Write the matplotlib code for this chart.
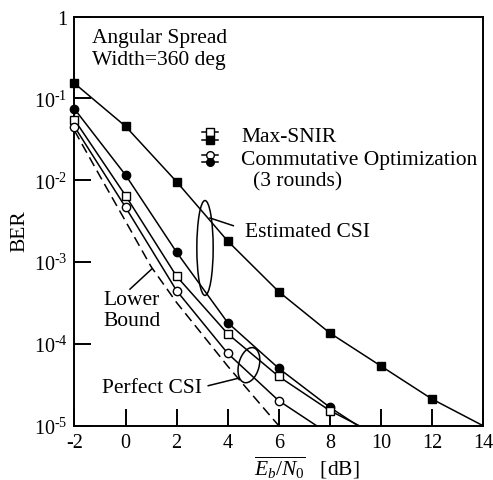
import numpy as np
import matplotlib
matplotlib.use('Agg')
import matplotlib.pyplot as plt
from matplotlib.patches import Ellipse

plt.rcParams['font.family'] = ['Liberation Serif', 'DejaVu Serif']
plt.rcParams['mathtext.fontset'] = 'custom'
plt.rcParams['mathtext.rm'] = 'Liberation Serif'
plt.rcParams['mathtext.it'] = 'Liberation Serif:italic'
plt.rcParams['axes.unicode_minus'] = False

# Estimated CSI
est_max_x = [-2, 0, 2, 4, 6, 8, 10, 12, 14]
est_max_y = [0.153, 0.0457, 0.0096, 1.81e-3, 4.35e-4, 1.36e-4, 5.37e-5, 2.12e-5, 1.0e-5]
est_com_x = [-2, 0, 2, 4, 6, 8, 9.1]
est_com_y = [0.0744, 0.0116, 1.32e-3, 1.82e-4, 5.03e-5, 1.68e-5, 1.0e-5]
# Perfect CSI
per_max_x = [-2, 0, 2, 4, 6, 8, 9.15]
per_max_y = [0.055, 6.5e-3, 6.7e-4, 1.33e-4, 4.0e-5, 1.53e-5, 1.0e-5]
per_com_x = [-2, 0, 2, 4, 6, 7.48]
per_com_y = [0.0452, 4.68e-3, 4.47e-4, 7.67e-5, 2.02e-5, 1.0e-5]
# lower bound (dashed)
lb_x = [-2, -1, 0, 1, 2, 3, 4, 5, 6]
lb_y = [0.0404, 0.0112, 3.16e-3, 8.8e-4, 3.2e-4, 1.31e-4, 5.35e-5, 2.31e-5, 1.0e-5]

xticks = [-2, 0, 2, 4, 6, 8, 10, 12, 14]
yticks = [1e-5, 1e-4, 1e-3, 1e-2, 1e-1, 1]
ytick_labels = [r'$10^{\text{-5}}$', r'$10^{\text{-4}}$', r'$10^{\text{-3}}$',
                r'$10^{\text{-2}}$', r'$10^{\text{-1}}$', r'$1\;\;\;$']

fs = 15.5
fig = plt.figure(figsize=(4.93, 4.81), dpi=100)
ax = fig.add_axes([0.1511, 0.1129, 0.8286, 0.8503])
ax.set_yscale('log')

lw = 1.1
ms = 6
series = [
    (est_max_x, est_max_y, 's', 'k'),
    (est_com_x, est_com_y, 'o', 'k'),
    (per_max_x, per_max_y, 's', 'w'),
    (per_com_x, per_com_y, 'o', 'w'),
]
for xs, ys, mk, fc in series:
    ax.plot(xs, ys, color='k', lw=lw, zorder=2)
    # last point is only the end of the line at the axis edge
    ax.plot(xs[:-1], ys[:-1], ls='none', marker=mk, ms=ms, mfc=fc, mec='k',
            mew=1.0, clip_on=False, zorder=3)
ax.plot(lb_x, lb_y, color='k', lw=lw, ls=(0, (6.5, 3.5)), zorder=2)

ax.set_xlim(-2, 14)
ax.set_ylim(1e-5, 1)
ax.set_xticks(xticks)
ax.set_xticklabels([str(t) for t in xticks])
ax.set_yticks(yticks)
ax.set_yticklabels(ytick_labels)
ax.minorticks_off()
ax.tick_params(direction='in', length=12, width=1.4, labelsize=14.5, pad=5)
ax.tick_params(axis='x', pad=5)
for s in ax.spines.values():
    s.set_linewidth(1.4)

ax.set_ylabel('BER', fontsize=fs)
ax.yaxis.set_label_coords(-0.111, 0.478)
ax.set_xlabel(r'$\overline{E_b/N_0}$   [dB]', fontsize=fs)
ax.xaxis.set_label_coords(0.569, -0.068)

tr = ax.transAxes
ax.text(0.042, 0.923, 'Angular Spread\nWidth=360 deg', transform=tr,
        fontsize=fs, va='center', ha='left', linespacing=1.2)

# legend drawn by hand: stacked open/filled markers
leg_x = [0.311, 0.352]
for y, mk, fc in [(0.717, 's', 'w'), (0.699, 's', 'k'), (0.662, 'o', 'w'), (0.6455, 'o', 'k')]:
    ax.plot(leg_x, [y, y], color='k', lw=lw, transform=tr)
    ax.plot([np.mean(leg_x)], [y], ls='none', marker=mk, ms=5.5, mfc=fc, mec='k',
            mew=1.0, transform=tr)
ax.text(0.4076, 0.707, 'Max-SNIR', transform=tr, fontsize=fs, va='center')
ax.text(0.4076, 0.652, 'Commutative Optimization', transform=tr, fontsize=fs, va='center')
ax.text(0.437, 0.599, '(3 rounds)', transform=tr, fontsize=fs, va='center')

# annotations
ax.add_patch(Ellipse((0.3195, 0.4345), 0.04, 0.232, angle=0, transform=tr,
                     fill=False, ec='k', lw=1.1))
ax.plot([0.3317, 0.3888], [0.5078, 0.489], color='k', lw=1.1, transform=tr)
ax.text(0.4174, 0.4736, 'Estimated CSI', transform=tr, fontsize=fs, va='center')

ax.add_patch(Ellipse((0.427, 0.148), 0.05, 0.088, angle=-15, transform=tr,
                     fill=False, ec='k', lw=1.1))
ax.plot([0.3275, 0.401], [0.0978, 0.116], color='k', lw=1.1, transform=tr)
ax.text(0.0666, 0.0939, 'Perfect CSI', transform=tr, fontsize=fs, va='center')

ax.plot([0.1359, 0.189], [0.334, 0.383], color='k', lw=1.1, transform=tr)
ax.text(0.0698, 0.283, 'Lower\nBound', transform=tr, fontsize=fs, va='center',
        linespacing=1.1)

fig.savefig('out.png', dpi=100)
